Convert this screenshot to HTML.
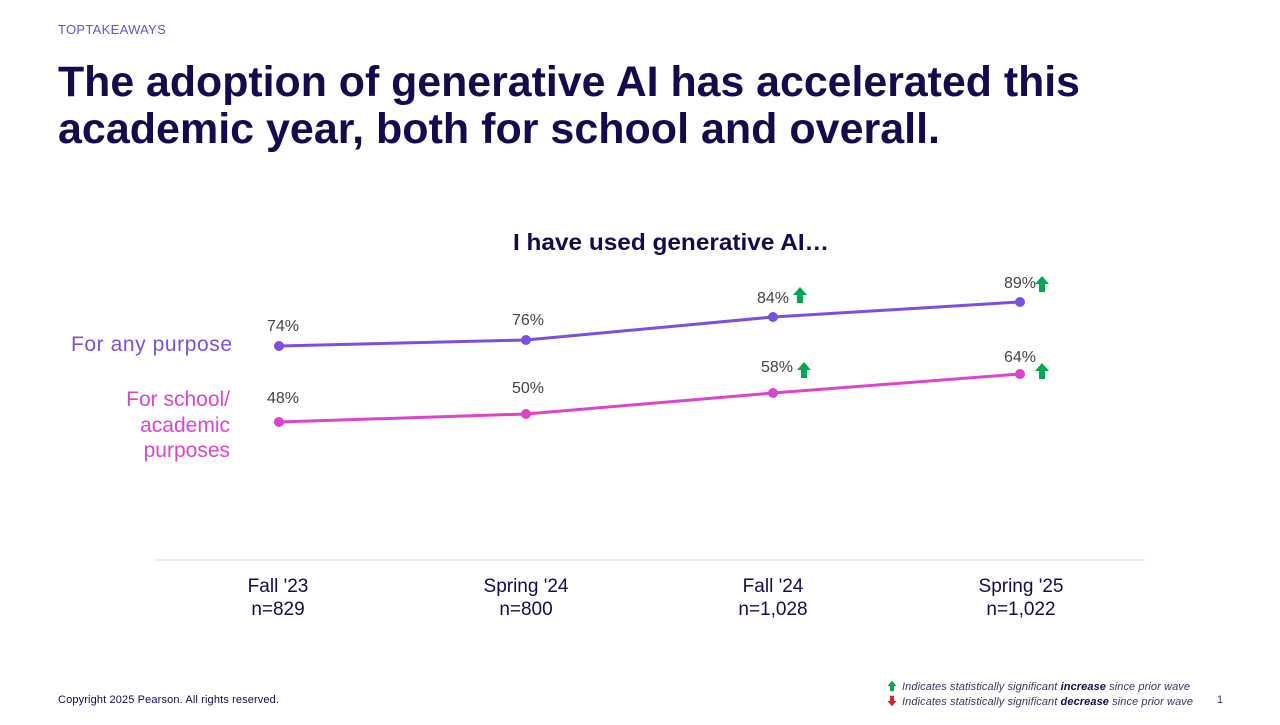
<!DOCTYPE html>
<html><head><meta charset="utf-8"><style>
body{margin:0;width:1280px;height:720px;background:#fff;overflow:hidden}
svg text{font-family:"Liberation Sans",sans-serif}
</style></head><body>
<svg width="1280" height="720" viewBox="0 0 1280 720" xmlns="http://www.w3.org/2000/svg">
<defs><path id="up" d="M0,-8 L7,0 L3,0 L3,8 L-3,8 L-3,0 L-7,0 Z"/></defs>
<text x="58" y="34" font-size="13" fill="#6a4fd8" letter-spacing="0.3">TOPTAKEAWAYS</text>
<text x="58" y="96" font-size="43" font-weight="bold" fill="#15094f" textLength="1022" lengthAdjust="spacingAndGlyphs">The adoption of generative AI has accelerated this</text>
<text x="58" y="143" font-size="43" font-weight="bold" fill="#15094f" textLength="882" lengthAdjust="spacingAndGlyphs">academic year, both for school and overall.</text>
<text x="513" y="250" font-size="23" font-weight="bold" fill="#15094f" textLength="316" lengthAdjust="spacingAndGlyphs">I have used generative AI…</text>
<text x="232" y="351" font-size="21" fill="#7b4fe0" text-anchor="end" textLength="161">For any purpose</text>
<text x="230" y="406" font-size="21" fill="#dd44cc" text-anchor="end">For school/</text>
<text x="230" y="432" font-size="21" fill="#dd44cc" text-anchor="end">academic</text>
<text x="230" y="457" font-size="21" fill="#dd44cc" text-anchor="end">purposes</text>
<polyline points="279,346 526,340 773,317 1020,302" fill="none" stroke="#7b4fe0" stroke-width="3"/>
<polyline points="279,422 526,414 773,393 1020,374" fill="none" stroke="#dd44cc" stroke-width="3"/>
<g fill="#7b4fe0"><circle cx="279" cy="346" r="5"/><circle cx="526" cy="340" r="5"/><circle cx="773" cy="317" r="5"/><circle cx="1020" cy="302" r="5"/></g>
<g fill="#dd44cc"><circle cx="279" cy="422" r="5"/><circle cx="526" cy="414" r="5"/><circle cx="773" cy="393" r="5"/><circle cx="1020" cy="374" r="5"/></g>
<g font-size="16" fill="#444" text-anchor="middle">
<text x="283" y="331">74%</text><text x="528" y="325">76%</text><text x="773" y="303">84%</text><text x="1020" y="288">89%</text>
<text x="283" y="403">48%</text><text x="528" y="393">50%</text><text x="777" y="372">58%</text><text x="1020" y="362">64%</text>
</g>
<g fill="#00a84f"><use href="#up" x="800" y="295"/><use href="#up" x="1042" y="284"/><use href="#up" x="804" y="370"/><use href="#up" x="1042" y="371"/></g>
<line x1="154" y1="560" x2="1145" y2="560" stroke="#d9d9d9" stroke-width="1"/>
<g font-size="19" fill="#15094f" text-anchor="middle">
<text x="278" y="592">Fall '23</text><text x="278" y="615">n=829</text>
<text x="526" y="592">Spring '24</text><text x="526" y="615">n=800</text>
<text x="773" y="592">Fall '24</text><text x="773" y="615">n=1,028</text>
<text x="1021" y="592">Spring '25</text><text x="1021" y="615">n=1,022</text>
</g>
<text x="58" y="703" font-size="11" fill="#15094f" textLength="221">Copyright 2025 Pearson. All rights reserved.</text>
<path d="M0,-8 L7,0 L3,0 L3,8 L-3,8 L-3,0 L-7,0 Z" fill="#00a84f" transform="translate(892 686) scale(0.65)"/>
<path d="M0,8 L7,0 L3,0 L3,-8 L-3,-8 L-3,0 L-7,0 Z" fill="#e02020" transform="translate(892 701) scale(0.65)"/>
<g font-size="11" font-style="italic" fill="#3a3560">
<text x="902" y="690" textLength="288">Indicates statistically significant <tspan font-weight="bold" fill="#15094f">increase</tspan> since prior wave</text>
<text x="902" y="705" textLength="291">Indicates statistically significant <tspan font-weight="bold" fill="#15094f">decrease</tspan> since prior wave</text>
</g>
<text x="1217" y="703" font-size="11" fill="#3a3560">1</text>
</svg>
</body></html>
